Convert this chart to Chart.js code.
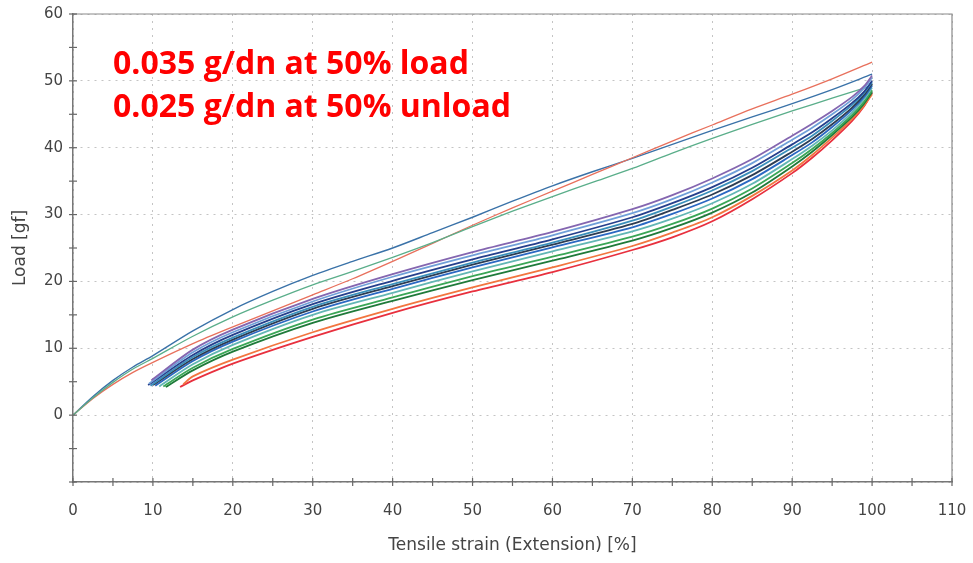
<!DOCTYPE html>
<html>
<head>
<meta charset="utf-8">
<script src="https://cdn.jsdelivr.net/npm/chart.js@4.4.1/dist/chart.umd.min.js"></script>
<style>
  html, body { margin: 0; padding: 0; background: #ffffff; }
  #wrap { width: 973px; height: 563px; position: relative; }
</style>
</head>
<body>
<div id="wrap"><canvas id="c" width="973" height="563"></canvas></div>
<script>
// ---------- DATA ----------
const xTitle = "Tensile strain (Extension) [%]";
const yTitle = "Load [gf]";
const noteLines = ["0.035 g/dn at 50% load", "0.025 g/dn at 50% unload"];

// Loading curves (strain %, load gf)
const loadX = [0, 2.5, 5, 7.5, 10, 15, 20, 25, 30, 35, 40, 45, 50, 55, 60, 65, 70, 75, 80, 85, 90, 95, 100];
const loadBlue  = [0, 2.8, 5.2, 7.2, 8.9, 12.6, 15.8, 18.5, 20.9, 23.0, 25.0, 27.3, 29.6, 32.0, 34.3, 36.4, 38.4, 40.5, 42.6, 44.6, 46.6, 48.7, 51.0];
const loadGreen = [0, 2.6, 4.9, 6.9, 8.5, 11.8, 14.7, 17.2, 19.5, 21.5, 23.6, 25.8, 28.2, 30.5, 32.7, 34.8, 36.9, 39.2, 41.4, 43.5, 45.5, 47.4, 49.3];
const loadRed   = [0, 2.5, 4.6, 6.4, 7.9, 10.7, 13.2, 15.6, 18.0, 20.4, 23.0, 25.7, 28.4, 31.0, 33.5, 36.0, 38.5, 41.0, 43.4, 45.8, 48.0, 50.3, 52.8];

// Unloading curves: values at unloadX, then each curve's end point
const unloadX = [100, 99, 97.5, 95, 92.5, 90, 85, 80, 75, 70, 60, 50, 40, 30, 20, 15];
const unloadPurple    = [50.8, 49.2, 47.6, 45.5, 43.6, 41.8, 38.3, 35.4, 32.9, 30.8, 27.4, 24.4, 21.1, 17.4, 12.8, 9.8];
const unloadLightBlue = [50.5, 48.9, 47.2, 45.0, 43.0, 41.2, 37.7, 34.8, 32.3, 30.2, 26.9, 23.9, 20.7, 17.0, 12.4, 9.4];
const unloadNavy      = [50.0, 48.4, 46.7, 44.4, 42.3, 40.5, 37.0, 34.1, 31.7, 29.6, 26.3, 23.3, 20.1, 16.6, 12.0, 9.0];
const unloadTeal      = [49.8, 48.2, 46.4, 44.0, 41.8, 40.0, 36.5, 33.6, 31.2, 29.1, 25.8, 22.8, 19.6, 16.2, 11.6, 8.7];
const unloadDark      = [49.6, 47.9, 46.0, 43.5, 41.3, 39.4, 35.9, 33.0, 30.7, 28.6, 25.5, 22.5, 19.3, 15.9, 11.3, 8.4];
const unloadBlue      = [49.3, 47.6, 45.7, 43.1, 40.8, 38.9, 35.3, 32.4, 30.1, 28.1, 25.1, 22.1, 18.9, 15.5, 11.0, 8.1];
const unloadAqua      = [49.0, 47.3, 45.3, 42.6, 40.3, 38.3, 34.6, 31.7, 29.4, 27.5, 24.5, 21.5, 18.3, 15.0, 10.5, 7.6];
const unloadGreen     = [48.6, 46.9, 44.9, 42.2, 39.8, 37.7, 33.9, 30.9, 28.6, 26.7, 23.7, 20.8, 17.6, 14.3, 9.9, 7.1];
const unloadDkGreen   = [48.3, 46.6, 44.6, 41.9, 39.4, 37.2, 33.3, 30.3, 28.0, 26.1, 23.1, 20.2, 17.1, 13.8, 9.5, 6.7];
const unloadOrange    = [48.0, 46.3, 44.3, 41.5, 38.9, 36.6, 32.8, 29.6, 27.3, 25.3, 22.1, 19.1, 15.9, 12.4, 8.3, 5.8];
const unloadRed       = [48.2, 46.2, 44.0, 41.1, 38.5, 36.2, 32.3, 29.0, 26.6, 24.7, 21.4, 18.5, 15.3, 11.7, 7.7, 5.2];
const unloadEndX = [9.8, 9.5, 9.4, 9.7, 10.0, 10.3, 10.8, 11.3, 11.6, 13.8, 13.4];
const unloadEndY = [5.2, 4.7, 4.5, 4.4, 4.5, 4.4, 4.3, 4.3, 4.2, 4.6, 4.2];

// ---------- BUILD ----------
function pts(xs, ys) { return xs.map((x, i) => ({ x: x, y: ys[i] })); }
function unloadPts(ys, k) {
  const p = [];
  unloadX.forEach((x, i) => { if (x > unloadEndX[k]) p.push({ x: x, y: ys[i] }); });
  p.push({ x: unloadEndX[k], y: unloadEndY[k] });
  return p;
}
const unloadSeries = [
  [unloadPurple, '#8466b0'], [unloadLightBlue, '#6f9fd8'], [unloadNavy, '#253f8c'],
  [unloadTeal, '#3a8fba'], [unloadDark, '#2d3c52'], [unloadBlue, '#2a68c2'],
  [unloadAqua, '#62b6b4'], [unloadGreen, '#3aa656'], [unloadDkGreen, '#1f7a3a'],
  [unloadOrange, '#f2753f'], [unloadRed, '#e8303e']
];
const datasets = [];
unloadSeries.forEach(([ys, col], k) => {
  datasets.push({ data: unloadPts(ys, k), borderColor: col, borderWidth: 1.8 });
});
datasets.push({ data: pts(loadX, loadGreen), borderColor: '#5aae8a', borderWidth: 1.3 });
datasets.push({ data: pts(loadX, loadRed), borderColor: '#e8705c', borderWidth: 1.3 });
datasets.push({ data: pts(loadX, loadBlue), borderColor: '#3a72a8', borderWidth: 1.4 });
datasets.forEach(d => { d.showLine = true; d.pointRadius = 0; d.fill = false; d.tension = 0.3; });

const tickFont = { family: '"DejaVu Sans", Verdana, sans-serif', size: 15 };
const titleFont = { family: '"DejaVu Sans", Verdana, sans-serif', size: 17 };

const decor = {
  id: 'decor',
  afterDraw(chart) {
    const { ctx, chartArea: a, scales: { x, y } } = chart;
    ctx.save();
    // frame top/right
    ctx.strokeStyle = '#8a8a8a';
    ctx.lineWidth = 1.2;
    ctx.beginPath();
    ctx.moveTo(a.left, a.top); ctx.lineTo(a.right, a.top); ctx.lineTo(a.right, a.bottom);
    ctx.stroke();
    // tick marks crossing axes every 5 units
    ctx.strokeStyle = '#666';
    ctx.lineWidth = 1.2;
    for (let v = 0; v <= 110; v += 5) {
      const px = x.getPixelForValue(v);
      ctx.beginPath(); ctx.moveTo(px, a.bottom - 4); ctx.lineTo(px, a.bottom + 4); ctx.stroke();
    }
    for (let v = -10; v <= 60; v += 5) {
      const py = y.getPixelForValue(v);
      ctx.beginPath(); ctx.moveTo(a.left - 4, py); ctx.lineTo(a.left + 4, py); ctx.stroke();
    }
    // annotation
    ctx.fillStyle = '#ff0000';
    ctx.font = 'bold 32px "Open Sans", "Noto Sans", sans-serif';
    ctx.textBaseline = 'alphabetic';
    ctx.fillText(noteLines[0], 113, 74);
    ctx.fillText(noteLines[1], 113, 117);
    ctx.restore();
  }
};

new Chart(document.getElementById('c'), {
  type: 'scatter',
  data: { datasets: datasets },
  options: {
    responsive: false,
    animation: false,
    layout: { padding: { left: 0, top: 14, right: 21, bottom: 0 } },
    plugins: { legend: { display: false }, tooltip: { enabled: false } },
    scales: {
      x: {
        type: 'linear', min: 0, max: 110,
        afterFit(s) { s.height = 81; s.paddingLeft = 0; s.paddingRight = 0; },
        ticks: { stepSize: 10, color: '#444', font: tickFont, padding: 20, maxRotation: 0, autoSkip: false },
        grid: { color: '#c4c4c4', lineWidth: 1, drawTicks: false },
        border: { color: '#777', width: 1.5, dash: [2, 5] },
        title: { display: true, text: xTitle, color: '#444', font: titleFont, padding: { top: 0, bottom: 7 } }
      },
      y: {
        type: 'linear', min: -10, max: 60,
        afterFit(s) { s.width = 73; s.paddingTop = 0; s.paddingBottom = 0; },
        ticks: { stepSize: 10, color: '#444', font: tickFont, padding: 10,
                 callback: v => (v >= 0 ? v : '') },
        grid: { color: '#c4c4c4', lineWidth: 1, drawTicks: false },
        border: { color: '#777', width: 1.5, dash: [2, 5] },
        title: { display: true, text: yTitle, color: '#444', font: titleFont, padding: { top: 10, bottom: 0 } }
      }
    }
  },
  plugins: [decor]
});
</script>
</body>
</html>
